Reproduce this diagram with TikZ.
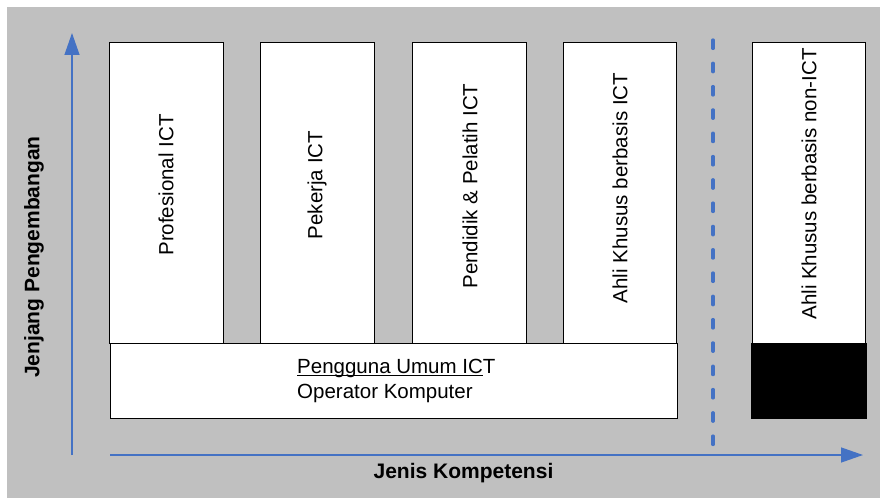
\documentclass[tikz,border=0pt]{standalone}
\usepackage{fontspec}
\setmainfont{Liberation Sans}
\usetikzlibrary{arrows.meta}
\definecolor{bggray}{HTML}{C0C0C0}
\definecolor{axisblue}{HTML}{4472C4}
\newcommand{\myundl}[1]{\setbox0\hbox{#1}\rlap{\rule[-2.6pt]{\wd0}{1.2pt}}\box0}
\tikzset{
  colbox/.style={draw=black, fill=white, line width=0.9pt, minimum width=113.5pt, minimum height=301pt, inner sep=0pt},
  coltext/.style={rotate=90, font=\fontsize{20.5}{25}\selectfont, inner sep=0pt},
  axisarrow/.style={draw=axisblue, line width=1.3pt, -{Triangle[length=22pt, width=15pt]}},
  axislabel/.style={font=\fontsize{21}{25}\bfseries\selectfont, inner sep=0pt},
}
\begin{document}
\begin{tikzpicture}[x=1pt,y=1pt]
\useasboundingbox (0,0) rectangle (880,498);
\fill[bggray] (7,0) rectangle (880,491);

% axes
\coordinate (yorig) at (72,43);
\coordinate (ytip) at (72,465);
\coordinate (xorig) at (110,43);
\coordinate (xtip) at (863,43);
\coordinate (dtop) at (713,458);
\coordinate (dbot) at (713,43);
\draw[axisarrow] (yorig) -- (ytip);
\draw[axisarrow] (xorig) -- (xtip);
\draw[draw=axisblue, line width=3.3pt, line cap=round, dash pattern=on 8.4pt off 14.9pt] (dtop) -- (dbot);

% columns
\node[colbox] (b1) at (166.5,305.5) {};
\node[colbox] (b2) at (317.5,305.5) {};
\node[colbox] (b3) at (469.5,305.5) {};
\node[colbox] (b4) at (620,305.5) {};
\node[colbox] (b5) at (809,305.5) {};

\node[coltext] (t1) at (166,313) {Profesional ICT};
\node[coltext] (t2) at (317,313) {Pekerja ICT};
\node[coltext] (t3) at (470,312) {Pendidik \& Pelatih ICT};
\node[coltext] (t4) at (620,310) {Ahli Khusus berbasis ICT};
\node[coltext] (t5) at (809,314) {Ahli Khusus berbasis non-ICT};

% base box
\node[draw=black, fill=white, line width=0.9pt, minimum width=567pt, minimum height=75pt, inner sep=0pt] (base) at (393.5,117.5) {};
\node[anchor=west, align=left, inner sep=0pt, font=\fontsize{20.5}{25}\selectfont] (basetext) at (297,117) {\myundl{Pengguna Umum IC}T\\Operator Komputer};

% black block
\node[draw=black, fill=black, minimum width=115pt, minimum height=75pt, inner sep=0pt] (blk) at (808.5,117.5) {};

% axis labels
\node[axislabel, rotate=90] (ylab) at (34,241) {Jenjang Pengembangan};
\node[axislabel] (xlab) at (463.5,25) {Jenis Kompetensi};
\end{tikzpicture}
\end{document}
